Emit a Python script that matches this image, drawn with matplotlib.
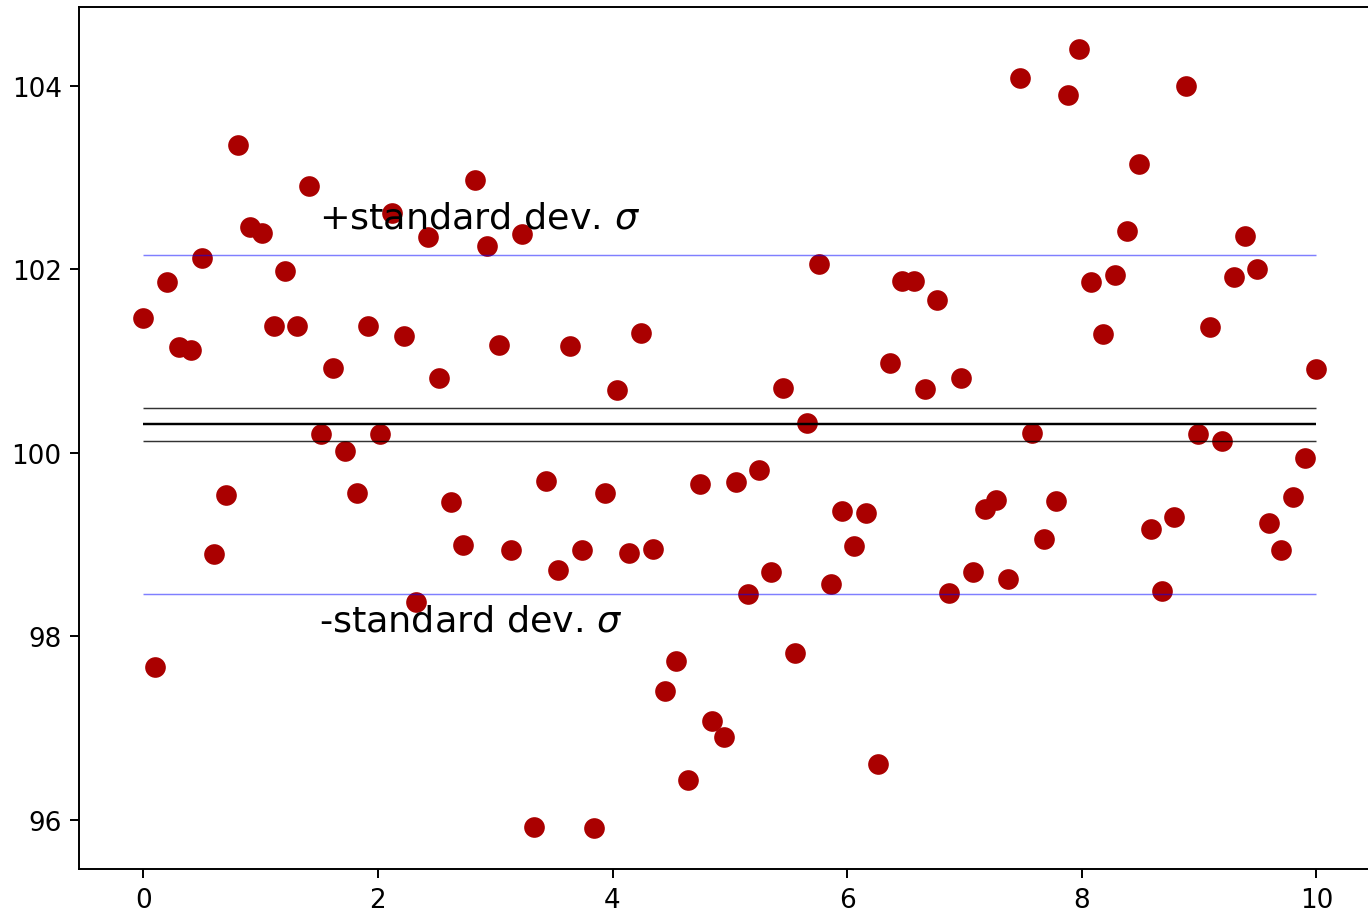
import matplotlib
matplotlib.use("Agg")
import matplotlib.pyplot as plt
import numpy as np

y_values = [
    101.47, 97.66, 101.86, 101.15, 101.12, 102.13, 98.90, 99.54, 103.36, 102.46,
    102.40, 101.38, 101.98, 101.38, 102.91, 100.21, 100.93, 100.02, 99.56, 101.38,
    100.21, 102.62, 101.27, 98.37, 102.35, 100.82, 99.46, 99.00, 102.97, 102.26,
    101.18, 98.94, 102.39, 95.92, 99.69, 98.72, 101.16, 98.94, 95.91, 99.56,
    100.68, 98.91, 101.31, 98.95, 97.40, 97.73, 96.43, 99.66, 97.08, 96.90,
    99.68, 98.46, 99.81, 98.70, 100.71, 97.82, 100.33, 102.06, 98.57, 99.37,
    98.98, 99.34, 96.61, 100.98, 101.87, 101.87, 100.70, 101.67, 98.47, 100.82,
    98.70, 99.39, 99.49, 98.62, 104.09, 100.22, 99.06, 99.48, 103.90, 104.40,
    101.86, 101.30, 101.94, 102.42, 103.15, 99.17, 98.49, 99.30, 104.00, 100.21,
    101.37, 100.13, 101.92, 102.36, 102.01, 99.24, 98.94, 99.52, 99.94, 100.91,
]
x_start, x_stop = 0, 10
upper_label = r"+standard dev. $\sigma$"
lower_label = r"-standard dev. $\sigma$"


def main():
    y = np.array(y_values)
    x = np.linspace(x_start, x_stop, len(y))

    mean = y.mean()
    std = y.std()
    sem = std / np.sqrt(len(y))

    fig = plt.figure(figsize=(1368 / 175, 914 / 175), dpi=175)
    ax = fig.add_axes([0.0575, 0.0476, 0.952, 0.9437])

    ax.plot(x, y, "o", color="#aa0000", markersize=8.5, markeredgewidth=0)

    ax.hlines(mean, x_start, x_stop, color="black", lw=1.0)
    ax.hlines([mean - sem, mean + sem], x_start, x_stop, color="black", lw=0.6, alpha=0.8)
    ax.hlines([mean - std, mean + std], x_start, x_stop, color="blue", lw=0.6, alpha=0.5)

    ax.text(1.5, mean + std + 0.3, upper_label, fontsize=15)
    ax.text(1.5, mean - std - 0.4, lower_label, fontsize=15)

    ax.set_xlim(-0.55, 10.55)
    ax.set_ylim(95.457, 104.862)
    ax.set_xticks([0, 2, 4, 6, 8, 10])
    ax.set_yticks([96, 98, 100, 102, 104])
    ax.tick_params(labelsize=10.8)

    fig.savefig("out.png", dpi=175)


if __name__ == "__main__":
    main()
